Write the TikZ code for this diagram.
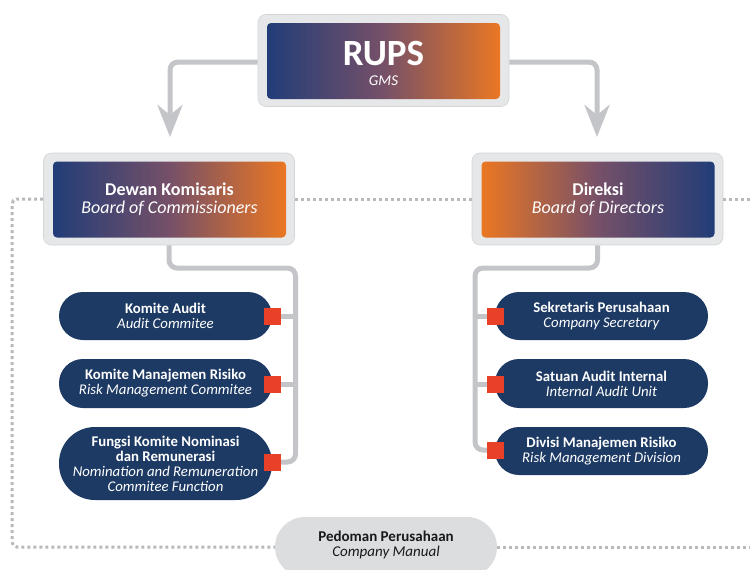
\documentclass[tikz,border=0pt]{standalone}
\usepackage{fontspec}
\setmainfont{Carlito}
\usetikzlibrary{arrows.meta}
\definecolor{navy}{RGB}{29,58,100}
\definecolor{gblue}{RGB}{33,61,120}
\definecolor{gmid}{RGB}{118,80,104}
\definecolor{gorange}{RGB}{234,119,35}
\definecolor{sqred}{RGB}{233,65,40}
\definecolor{linegrey}{RGB}{196,197,200}
\definecolor{dotgrey}{RGB}{184,185,187}
\definecolor{framegrey}{RGB}{230,231,232}
\definecolor{manualgrey}{RGB}{220,221,223}
\begin{document}
\begin{tikzpicture}[x=1pt,y=-1pt,
  frame/.style={fill=framegrey,draw=framegrey!92!black,line width=0.6pt,rounded corners=8pt,minimum width=251pt,minimum height=92pt},
  inner/.style={rounded corners=4pt,minimum width=233pt,minimum height=76pt,text=white,align=center},
  bluetoorange/.style={inner,left color=gblue,right color=gorange,middle color=gmid},
  orangetoblue/.style={inner,left color=gorange,right color=gblue,middle color=gmid},
  pill/.style={fill=navy,text=white,rounded corners=24pt,minimum width=213pt,align=center,
    font=\fontsize{14.8}{15}\selectfont},
  redsq/.style={fill=sqred,minimum size=17pt,inner sep=0pt},
  conn/.style={linegrey,line width=5pt,rounded corners=8pt},
  dots/.style={dotgrey,line width=3pt,dash pattern=on 3pt off 3pt,rounded corners=5pt}]
  \useasboundingbox (0,0) rectangle (750,570);

  % frames
  \node[frame] (rups) at (383.5,60.5) {};
  \node[bluetoorange] (rupsin) at (383.5,61) {};
  \node[text=white,inner sep=0pt,font=\bfseries\fontsize{37}{37}\selectfont] (rupst) at (383.5,54) {RUPS};
  \node[text=white,inner sep=0pt,font=\itshape\fontsize{15}{15}\selectfont] (gms) at (383.5,80.5) {GMS};

  \node[frame] (dewan) at (169,199) {};
  \node[bluetoorange,font=\fontsize{18}{18}\selectfont] (dewanin) at (169.5,199.5)
    {\textbf{Dewan Komisaris}\\\textit{Board of Commissioners}};

  \node[frame] (direksi) at (597.5,199) {};
  \node[orangetoblue,font=\fontsize{18}{18}\selectfont] (direksiin) at (598,199.5)
    {\textbf{Direksi}\\\textit{Board of Directors}};

  % dotted manual line
  \node[fill=manualgrey,rounded corners=30pt,minimum width=222pt,minimum height=60pt] (manual) at (386,547) {};
  \node[align=center,text=black!90,font=\fontsize{15}{15}\selectfont] (manualt) at (386,545)
    {\textbf{Pedoman Perusahaan}\\\textit{Company Manual}};
  \coordinate (lcorner) at (12,547);
  \coordinate (edgetop) at (750,199);
  \coordinate (edgebot) at (750,547);
  \draw[dots] (dewan.west) -| (lcorner) -- (manual.west);
  \draw[dots] (manual.east) -- (edgebot);
  \draw[dots] (dewan.east) -- (direksi.west);
  \draw[dots] (direksi.east) -- (edgetop);

  % arrows from RUPS
  \coordinate (ltip) at (170,137);
  \coordinate (rtip) at (597,137);
  \draw[conn,-{Stealth[length=32pt,width=25pt,inset=10pt]}] ([yshift=-1.5pt]rups.west) -| (ltip);
  \draw[conn,-{Stealth[length=32pt,width=25pt,inset=10pt]}] ([yshift=-1.5pt]rups.east) -| (rtip);

  % committees
  \node[pill,minimum height=48pt] (audit) at (165.5,316) {\textbf{Komite Audit}\\\textit{Audit Commitee}};
  \node[pill,minimum height=49pt] (risk) at (165.5,383.5) {\textbf{Komite Manajemen Risiko}\\\textit{Risk Management Commitee}};
  \node[pill,minimum height=73pt,rounded corners=36pt] (nomination) at (165.5,463.5)
    {\textbf{Fungsi Komite Nominasi}\\\textbf{dan Remunerasi}\\\textit{Nomination and Remuneration}\\\textit{Commitee Function}};

  \node[pill,minimum height=48pt] (secretary) at (601.5,316) {\textbf{Sekretaris Perusahaan}\\\textit{Company Secretary}};
  \node[pill,minimum height=49pt] (internal) at (601.5,383.5) {\textbf{Satuan Audit Internal}\\\textit{Internal Audit Unit}};
  \node[pill,minimum height=48pt] (division) at (601.5,451) {\textbf{Divisi Manajemen Risiko}\\\textit{Risk Management Division}};

  % connectors
  \coordinate (lbus) at (295.5,268);
  \coordinate (rbus) at (475,268);
  \node[redsq] (lsq1) at (272.5,316.5) {};
  \node[redsq] (lsq2) at (272.5,384) {};
  \node[redsq] (lsq3) at (272.5,462) {};
  \node[redsq] (rsq1) at (495.5,316.5) {};
  \node[redsq] (rsq2) at (495.5,384) {};
  \node[redsq] (rsq3) at (495.5,450) {};
  \draw[conn] (dewan.south) |- (lbus) |- (lsq3.east);
  \draw[conn] (lsq1.east) -- (lsq1 -| lbus);
  \draw[conn] (lsq2.east) -- (lsq2 -| lbus);
  \draw[conn] (direksi.south) |- (rbus) |- (rsq3.west);
  \draw[conn] (rsq1.west) -- (rsq1 -| rbus);
  \draw[conn] (rsq2.west) -- (rsq2 -| rbus);
\end{tikzpicture}
\end{document}
